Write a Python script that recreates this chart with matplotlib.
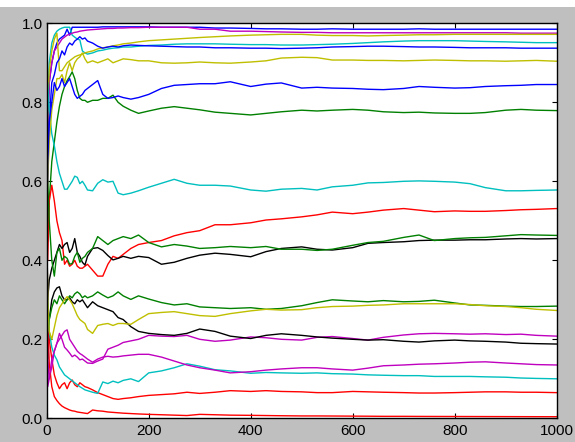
import matplotlib

matplotlib.use("Agg")
import matplotlib.pyplot as plt
import numpy as np
from matplotlib.patches import Rectangle


# trial counts at which each running estimate was sampled
STEPS = [0, 2, 5, 10, 15, 20, 25, 30, 35, 40, 45, 50, 55, 60, 65, 70, 75, 80, 90, 100,
         110, 120, 130, 140, 150, 165, 180, 200, 225, 250, 275, 300, 330, 360, 400, 430,
         460, 500, 530, 560, 600, 630, 660, 700, 730, 760, 800, 830, 860, 900, 930, 960, 1000]

blue_top = [0.5, 0.75, 0.85, 0.9, 0.93, 0.95, 0.96, 0.965, 0.97, 0.985, 0.97, 0.99, 0.99, 0.99,
            0.99, 0.99, 0.99, 0.99, 0.99, 0.99, 0.991, 0.991, 0.991, 0.991, 0.991, 0.991, 0.991,
            0.991, 0.99, 0.99, 0.99, 0.99, 0.988, 0.988, 0.987, 0.986, 0.986, 0.985, 0.985,
            0.986, 0.985, 0.985, 0.985, 0.985, 0.986, 0.985, 0.985, 0.985, 0.985, 0.985, 0.985,
            0.985, 0.985]
green_high = [0.5, 0.45, 0.55, 0.65, 0.7, 0.75, 0.79, 0.82, 0.84, 0.855, 0.865, 0.877, 0.86, 0.83,
              0.81, 0.805, 0.805, 0.8, 0.805, 0.805, 0.81, 0.81, 0.818, 0.8, 0.79, 0.78, 0.772,
              0.778, 0.785, 0.789, 0.785, 0.781, 0.775, 0.772, 0.768, 0.772, 0.776, 0.78, 0.778,
              0.78, 0.782, 0.78, 0.776, 0.774, 0.775, 0.773, 0.772, 0.772, 0.774, 0.78, 0.782,
              0.78, 0.779]
red_mid = [0.5, 0.4, 0.55, 0.59, 0.55, 0.5, 0.47, 0.45, 0.39, 0.4, 0.385, 0.39, 0.4, 0.385, 0.38,
           0.38, 0.385, 0.39, 0.375, 0.36, 0.36, 0.39, 0.41, 0.405, 0.415, 0.43, 0.44, 0.445,
           0.45, 0.462, 0.47, 0.475, 0.49, 0.49, 0.495, 0.502, 0.505, 0.51, 0.515, 0.522, 0.518,
           0.522, 0.527, 0.531, 0.527, 0.523, 0.525, 0.524, 0.524, 0.526, 0.528, 0.529, 0.531]
cyan_top = [0.5, 0.8, 0.9, 0.95, 0.97, 0.98, 0.985, 0.988, 0.99, 0.99, 0.99, 0.97, 0.965, 0.96,
            0.958, 0.93, 0.925, 0.922, 0.925, 0.93, 0.932, 0.935, 0.937, 0.938, 0.94, 0.94, 0.942,
            0.944, 0.945, 0.947, 0.948, 0.948, 0.948, 0.947, 0.946, 0.946, 0.945, 0.945, 0.946,
            0.947, 0.949, 0.951, 0.953, 0.955, 0.956, 0.956, 0.956, 0.955, 0.954, 0.953, 0.952,
            0.951, 0.951]
magenta_top = [0.5, 0.7, 0.85, 0.9, 0.93, 0.94, 0.95, 0.96, 0.965, 0.97, 0.972, 0.975, 0.977,
               0.978, 0.98, 0.981, 0.982, 0.983, 0.984, 0.985, 0.986, 0.987, 0.987, 0.988, 0.988,
               0.989, 0.989, 0.99, 0.99, 0.99, 0.99, 0.985, 0.985, 0.98, 0.98, 0.979, 0.978,
               0.977, 0.977, 0.976, 0.976, 0.976, 0.976, 0.976, 0.976, 0.976, 0.976, 0.976,
               0.976, 0.976, 0.975, 0.975, 0.975]
yellow_top = [0.5, 0.8, 0.88, 0.93, 0.96, 0.975, 0.88, 0.88, 0.89, 0.9, 0.905, 0.91, 0.915,
              0.918, 0.92, 0.922, 0.925, 0.927, 0.93, 0.935, 0.938, 0.94, 0.943, 0.945, 0.948,
              0.95, 0.953, 0.956, 0.958, 0.96, 0.962, 0.964, 0.966, 0.968, 0.97, 0.971, 0.972,
              0.972, 0.97, 0.969, 0.969, 0.968, 0.969, 0.97, 0.971, 0.971, 0.972, 0.972, 0.972,
              0.972, 0.972, 0.972, 0.972]
black_mid = [0.5, 0.3, 0.35, 0.38, 0.4, 0.42, 0.44, 0.43, 0.44, 0.445, 0.42, 0.43, 0.455, 0.42,
             0.41, 0.395, 0.388, 0.41, 0.43, 0.432, 0.425, 0.412, 0.401, 0.405, 0.41, 0.405, 0.41,
             0.407, 0.39, 0.395, 0.405, 0.413, 0.418, 0.415, 0.409, 0.422, 0.43, 0.434, 0.428,
             0.426, 0.432, 0.443, 0.445, 0.447, 0.45, 0.451, 0.451, 0.452, 0.452, 0.454, 0.455,
             0.454, 0.455]
blue_second = [0.5, 0.6, 0.75, 0.85, 0.87, 0.9, 0.91, 0.93, 0.92, 0.94, 0.95, 0.945, 0.955, 0.96,
               0.966, 0.96, 0.963, 0.955, 0.95, 0.942, 0.937, 0.94, 0.942, 0.94, 0.943, 0.945,
               0.944, 0.943, 0.942, 0.941, 0.94, 0.94, 0.938, 0.938, 0.937, 0.937, 0.936, 0.937,
               0.938, 0.94, 0.941, 0.942, 0.942, 0.941, 0.94, 0.94, 0.939, 0.938, 0.938, 0.938,
               0.937, 0.937, 0.937]
green_mid = [0.5, 0.6, 0.5, 0.4, 0.36, 0.42, 0.43, 0.4, 0.41, 0.405, 0.39, 0.392, 0.41, 0.42,
             0.395, 0.405, 0.41, 0.42, 0.43, 0.46, 0.45, 0.44, 0.45, 0.455, 0.46, 0.455, 0.464,
             0.445, 0.434, 0.44, 0.436, 0.43, 0.432, 0.435, 0.432, 0.435, 0.428, 0.428, 0.425,
             0.428, 0.438, 0.445, 0.448, 0.458, 0.464, 0.45, 0.455, 0.457, 0.458, 0.462, 0.465,
             0.464, 0.463]
red_low = [0.5, 0.3, 0.2, 0.15, 0.11, 0.09, 0.075, 0.085, 0.09, 0.075, 0.09, 0.097, 0.085, 0.08,
           0.09, 0.085, 0.08, 0.078, 0.072, 0.065, 0.06, 0.055, 0.05, 0.048, 0.05, 0.052, 0.055,
           0.058, 0.06, 0.062, 0.066, 0.063, 0.066, 0.07, 0.068, 0.07, 0.068, 0.067, 0.065,
           0.065, 0.068, 0.067, 0.066, 0.065, 0.064, 0.064, 0.065, 0.066, 0.067, 0.067, 0.066,
           0.066, 0.065]
cyan_mid = [0.5, 0.85, 0.78, 0.72, 0.69, 0.65, 0.62, 0.6, 0.58, 0.58, 0.59, 0.6, 0.613, 0.61,
            0.594, 0.6, 0.59, 0.578, 0.576, 0.595, 0.604, 0.598, 0.6, 0.57, 0.566, 0.57, 0.576,
            0.585, 0.595, 0.605, 0.595, 0.59, 0.59, 0.588, 0.578, 0.575, 0.58, 0.582, 0.578,
            0.586, 0.59, 0.596, 0.597, 0.6, 0.601, 0.6, 0.598, 0.594, 0.584, 0.576, 0.576,
            0.577, 0.578]
magenta_mid = [0.5, 0.15, 0.1, 0.13, 0.17, 0.19, 0.215, 0.2, 0.18, 0.173, 0.165, 0.156, 0.16,
               0.155, 0.148, 0.15, 0.145, 0.14, 0.139, 0.145, 0.15, 0.175, 0.18, 0.185, 0.192,
               0.196, 0.2, 0.21, 0.208, 0.207, 0.21, 0.2, 0.195, 0.198, 0.206, 0.204, 0.2, 0.198,
               0.205, 0.207, 0.202, 0.198, 0.205, 0.211, 0.214, 0.215, 0.214, 0.213, 0.214,
               0.212, 0.213, 0.21, 0.208]
yellow_second = [0.5, 0.6, 0.7, 0.78, 0.82, 0.86, 0.86, 0.87, 0.85, 0.88, 0.9, 0.88, 0.9, 0.91,
                 0.915, 0.925, 0.91, 0.9, 0.905, 0.9, 0.905, 0.91, 0.9, 0.905, 0.91, 0.908,
                 0.905, 0.905, 0.9, 0.899, 0.9, 0.902, 0.9, 0.899, 0.902, 0.905, 0.912, 0.914,
                 0.913, 0.907, 0.907, 0.906, 0.906, 0.905, 0.906, 0.907, 0.906, 0.905, 0.905,
                 0.904, 0.905, 0.906, 0.904]
black_low = [0.5, 0.15, 0.25, 0.3, 0.32, 0.33, 0.333, 0.31, 0.3, 0.3, 0.305, 0.295, 0.29, 0.3,
             0.295, 0.3, 0.29, 0.28, 0.295, 0.285, 0.28, 0.275, 0.27, 0.255, 0.25, 0.232, 0.22,
             0.215, 0.212, 0.21, 0.215, 0.226, 0.22, 0.208, 0.202, 0.21, 0.214, 0.21, 0.206,
             0.203, 0.2, 0.198, 0.199, 0.195, 0.193, 0.196, 0.198, 0.196, 0.195, 0.193, 0.19,
             0.189, 0.188]
blue_mid = [0.5, 0.65, 0.75, 0.8, 0.85, 0.83, 0.84, 0.86, 0.84, 0.85, 0.86, 0.84, 0.82, 0.81,
            0.815, 0.82, 0.83, 0.835, 0.845, 0.855, 0.82, 0.81, 0.812, 0.816, 0.812, 0.808,
            0.812, 0.82, 0.835, 0.843, 0.845, 0.847, 0.847, 0.852, 0.84, 0.846, 0.849, 0.836,
            0.838, 0.836, 0.835, 0.833, 0.832, 0.835, 0.84, 0.838, 0.836, 0.837, 0.84, 0.842,
            0.843, 0.845, 0.845]
green_low = [0.5, 0.2, 0.25, 0.28, 0.3, 0.29, 0.31, 0.3, 0.29, 0.3, 0.31, 0.305, 0.315, 0.32,
             0.315, 0.305, 0.31, 0.305, 0.31, 0.32, 0.312, 0.305, 0.31, 0.32, 0.31, 0.301, 0.31,
             0.302, 0.293, 0.287, 0.29, 0.282, 0.28, 0.278, 0.28, 0.276, 0.278, 0.285, 0.293,
             0.3, 0.297, 0.295, 0.298, 0.295, 0.296, 0.299, 0.292, 0.287, 0.286, 0.284, 0.283,
             0.283, 0.284]
red_bottom = [0.5, 0.25, 0.14, 0.08, 0.055, 0.045, 0.037, 0.031, 0.027, 0.024, 0.021, 0.019,
              0.018, 0.016, 0.015, 0.014, 0.013, 0.012, 0.021, 0.019, 0.018, 0.016, 0.015, 0.014,
              0.013, 0.012, 0.011, 0.01, 0.009, 0.008, 0.007, 0.01, 0.009, 0.008, 0.0075, 0.007,
              0.0065, 0.006, 0.006, 0.0058, 0.0055, 0.0053, 0.005, 0.005, 0.0048, 0.0047, 0.0046,
              0.0045, 0.0044, 0.0043, 0.0042, 0.0041, 0.004]
cyan_low = [0.5, 0.3, 0.22, 0.18, 0.16, 0.148, 0.13, 0.12, 0.11, 0.105, 0.1, 0.095, 0.09, 0.085,
            0.08, 0.076, 0.072, 0.07, 0.066, 0.063, 0.092, 0.088, 0.094, 0.09, 0.096, 0.1, 0.093,
            0.115, 0.12, 0.128, 0.138, 0.132, 0.123, 0.12, 0.114, 0.116, 0.115, 0.114, 0.115,
            0.113, 0.112, 0.11, 0.109, 0.108, 0.108, 0.106, 0.106, 0.106, 0.105, 0.104, 0.102,
            0.101, 0.1]
magenta_low = [0.5, 0.08, 0.1, 0.15, 0.17, 0.19, 0.2, 0.21, 0.22, 0.224, 0.2, 0.19, 0.18, 0.17,
               0.164, 0.16, 0.155, 0.15, 0.142, 0.15, 0.155, 0.157, 0.155, 0.156, 0.158, 0.16,
               0.162, 0.162, 0.155, 0.145, 0.135, 0.128, 0.122, 0.115, 0.118, 0.122, 0.125,
               0.128, 0.128, 0.125, 0.122, 0.127, 0.133, 0.135, 0.137, 0.138, 0.14, 0.142, 0.143,
               0.14, 0.138, 0.136, 0.135]
yellow_low = [0.5, 0.3, 0.22, 0.2, 0.23, 0.26, 0.28, 0.29, 0.3, 0.308, 0.3, 0.29, 0.275, 0.26,
              0.25, 0.245, 0.24, 0.225, 0.215, 0.235, 0.238, 0.24, 0.235, 0.24, 0.24, 0.238, 0.25,
              0.265, 0.268, 0.27, 0.265, 0.26, 0.258, 0.265, 0.272, 0.276, 0.274, 0.275, 0.28,
              0.283, 0.284, 0.286, 0.287, 0.29, 0.29, 0.29, 0.29, 0.288, 0.285, 0.283, 0.28,
              0.276, 0.273]

# old matplotlib colour cycle: b g r c m y k
SERIES = [
    (blue_top, "b"), (green_high, "g"), (red_mid, "r"), (cyan_top, "c"), (magenta_top, "m"),
    (yellow_top, "y"), (black_mid, "k"), (blue_second, "b"), (green_mid, "g"), (red_low, "r"),
    (cyan_mid, "c"), (magenta_mid, "m"), (yellow_second, "y"), (black_low, "k"),
    (blue_mid, "b"), (green_low, "g"), (red_bottom, "r"), (cyan_low, "c"),
    (magenta_low, "m"), (yellow_low, "y"),
]
COLORS = {"b": (0, 0, 1), "g": (0, 0.5, 0), "r": (1, 0, 0), "c": (0, 0.75, 0.75),
          "m": (0.75, 0, 0.75), "y": (0.75, 0.75, 0), "k": (0, 0, 0)}


def main() -> None:
    fig = plt.figure(figsize=(5.75, 4.42), dpi=100, facecolor="#bfbfbf")
    # thin white band along the top edge of the window
    fig.add_artist(Rectangle((0, 435 / 442), 1, 7 / 442, transform=fig.transFigure,
                             facecolor="white", edgecolor="none"))
    ax = fig.add_axes([0.0812, 0.0536, 0.8870, 0.8937])
    steps = np.array(STEPS)
    for values, key in SERIES:
        ax.plot(steps, values, color=COLORS[key], lw=1.0)

    ax.set_xlim(0, 1000)
    ax.set_ylim(0, 1)
    ax.set_xticks(np.arange(0, 1001, 200))
    ax.set_yticks(np.arange(0, 1.01, 0.2))
    ax.tick_params(direction="in", length=3.5, width=0.8, top=True, right=True,
                   labelsize=11, colors="black")
    ax.tick_params(axis="x", pad=4)
    ax.tick_params(axis="y", pad=3)
    for lbl in ax.get_xticklabels() + ax.get_yticklabels():
        lbl.set_family("Liberation Sans")
    for spine in ax.spines.values():
        spine.set_linewidth(1.0)

    fig.savefig("out.png", dpi=100, facecolor=fig.get_facecolor())
    plt.close(fig)


if __name__ == "__main__":
    main()
